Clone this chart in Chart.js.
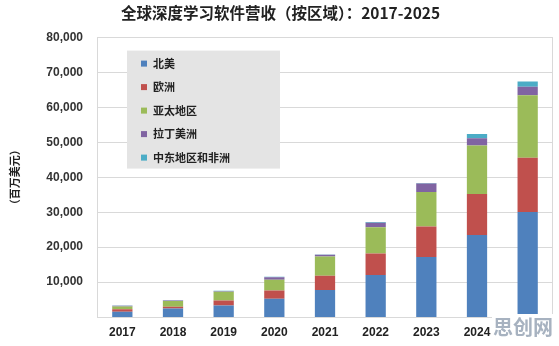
<!DOCTYPE html>
<html>
<head>
<meta charset="utf-8">
<script src="https://cdn.jsdelivr.net/npm/chart.js@4"></script>
<style>
  html, body { margin: 0; padding: 0; background: #fff; }
  #wrap { position: relative; width: 559px; height: 346px; overflow: hidden; }
  #mark {
    position: absolute; left: 492px; top: 314px; white-space: nowrap;
    font: bold 20px "Noto Sans CJK SC", sans-serif;
    color: #a7b2c0; background: #fff; line-height: 26px; padding: 0 1px;
  }
</style>
</head>
<body>
<div id="wrap">
  <canvas id="myChart" width="559" height="346"></canvas>
  <div id="mark">思创网</div>
</div>
<script>
const years = ['2017', '2018', '2019', '2020', '2021', '2022', '2023', '2024', '2025']

// 百万美元
const northAmerica = [1500, 2400, 3300, 5200, 7700, 12000, 17200, 23500, 30100]
const europe = [700, 500, 1400, 2400, 4100, 6200, 8700, 11700, 15500]
const asiaPacific = [800, 1700, 2500, 3100, 5500, 7500, 9900, 13900, 17900]
const latinAmerica = [200, 100, 200, 700, 500, 1300, 2400, 2100, 2400]
const meAfrica = [100, 100, 100, 100, 100, 200, 200, 1200, 1500]

const yTicks = [10000, 20000, 30000, 40000, 50000, 60000, 70000, 80000]

Chart.defaults.font.family = '"Liberation Sans", "Noto Sans CJK SC", sans-serif'
Chart.defaults.color = '#333'

const gridColor = '#d9d9d9'

// legend box drawn inside the plot, like the original
const boxLegend = {
    id: 'boxLegend',
    afterDraw(chart) {
        const c = chart.ctx
        const area = chart.chartArea
        c.save()
        // right border of plot
        c.strokeStyle = gridColor
        c.lineWidth = 1
        c.beginPath()
        c.moveTo(area.right - 0.5, area.top)
        c.lineTo(area.right - 0.5, area.bottom)
        c.stroke()

        const x = area.left + 30, y = area.top + 13
        c.fillStyle = '#e4e4e4'
        c.fillRect(x, y, 153, 118)
        c.font = 'bold 11px "Noto Sans CJK SC", sans-serif'
        c.textBaseline = 'middle'
        chart.data.datasets.forEach((ds, i) => {
            const cy = y + 13 + i * 23.5
            c.fillStyle = ds.backgroundColor
            c.fillRect(x + 14, cy - 3, 6, 6)
            c.fillStyle = '#222'
            c.fillText(ds.label, x + 26, cy)
        })
        c.restore()
    }
}

const data = {
    labels: years,
    datasets: [
        { label: '北美', data: northAmerica, backgroundColor: '#4F81BD' },
        { label: '欧洲', data: europe, backgroundColor: '#C0504D' },
        { label: '亚太地区', data: asiaPacific, backgroundColor: '#9BBB59' },
        { label: '拉丁美洲', data: latinAmerica, backgroundColor: '#8064A2' },
        { label: '中东地区和非洲', data: meAfrica, backgroundColor: '#4BACC6' }
    ]
}

const config = {
    type: 'bar',
    data,
    options: {
        responsive: false,
        animation: false,
        barPercentage: 0.4,
        categoryPercentage: 1,
        layout: { padding: { left: 8, right: 6, top: 0, bottom: 7 } },
        plugins: {
            legend: { display: false },
            tooltip: { enabled: false },
            title: {
                display: true,
                text: '全球深度学习软件营收（按区域）：2017-2025',
                color: '#222',
                font: { size: 15.5, weight: 'bold', family: '"Noto Sans CJK SC", sans-serif' },
                padding: { top: 4, bottom: 15 }
            }
        },
        scales: {
            x: {
                stacked: true,
                afterFit: scale => { scale.height = 22 },
                grid: { display: false, drawTicks: false },
                border: { color: gridColor },
                ticks: {
                    padding: 8,
                    color: '#222',
                    font: { size: 12, weight: 'bold' }
                }
            },
            y: {
                stacked: true,
                min: 0,
                max: 80000,
                afterFit: scale => { scale.width = 89 },
                afterBuildTicks: scale => {
                    scale.ticks = yTicks.map(v => ({ value: v }))
                },
                grid: { color: gridColor, drawTicks: false },
                border: { color: gridColor },
                title: {
                    display: true,
                    text: '（百万美元）',
                    color: '#222',
                    font: { size: 11, weight: 'bold', family: '"Noto Sans CJK SC", sans-serif' },
                    padding: 0
                },
                ticks: {
                    padding: 14,
                    color: '#333',
                    font: { size: 12, weight: 'bold' },
                    callback: v => v.toLocaleString('en-US')
                }
            }
        }
    },
    plugins: [boxLegend]
}

const myChart = new Chart(document.getElementById('myChart'), config)
</script>
</body>
</html>
